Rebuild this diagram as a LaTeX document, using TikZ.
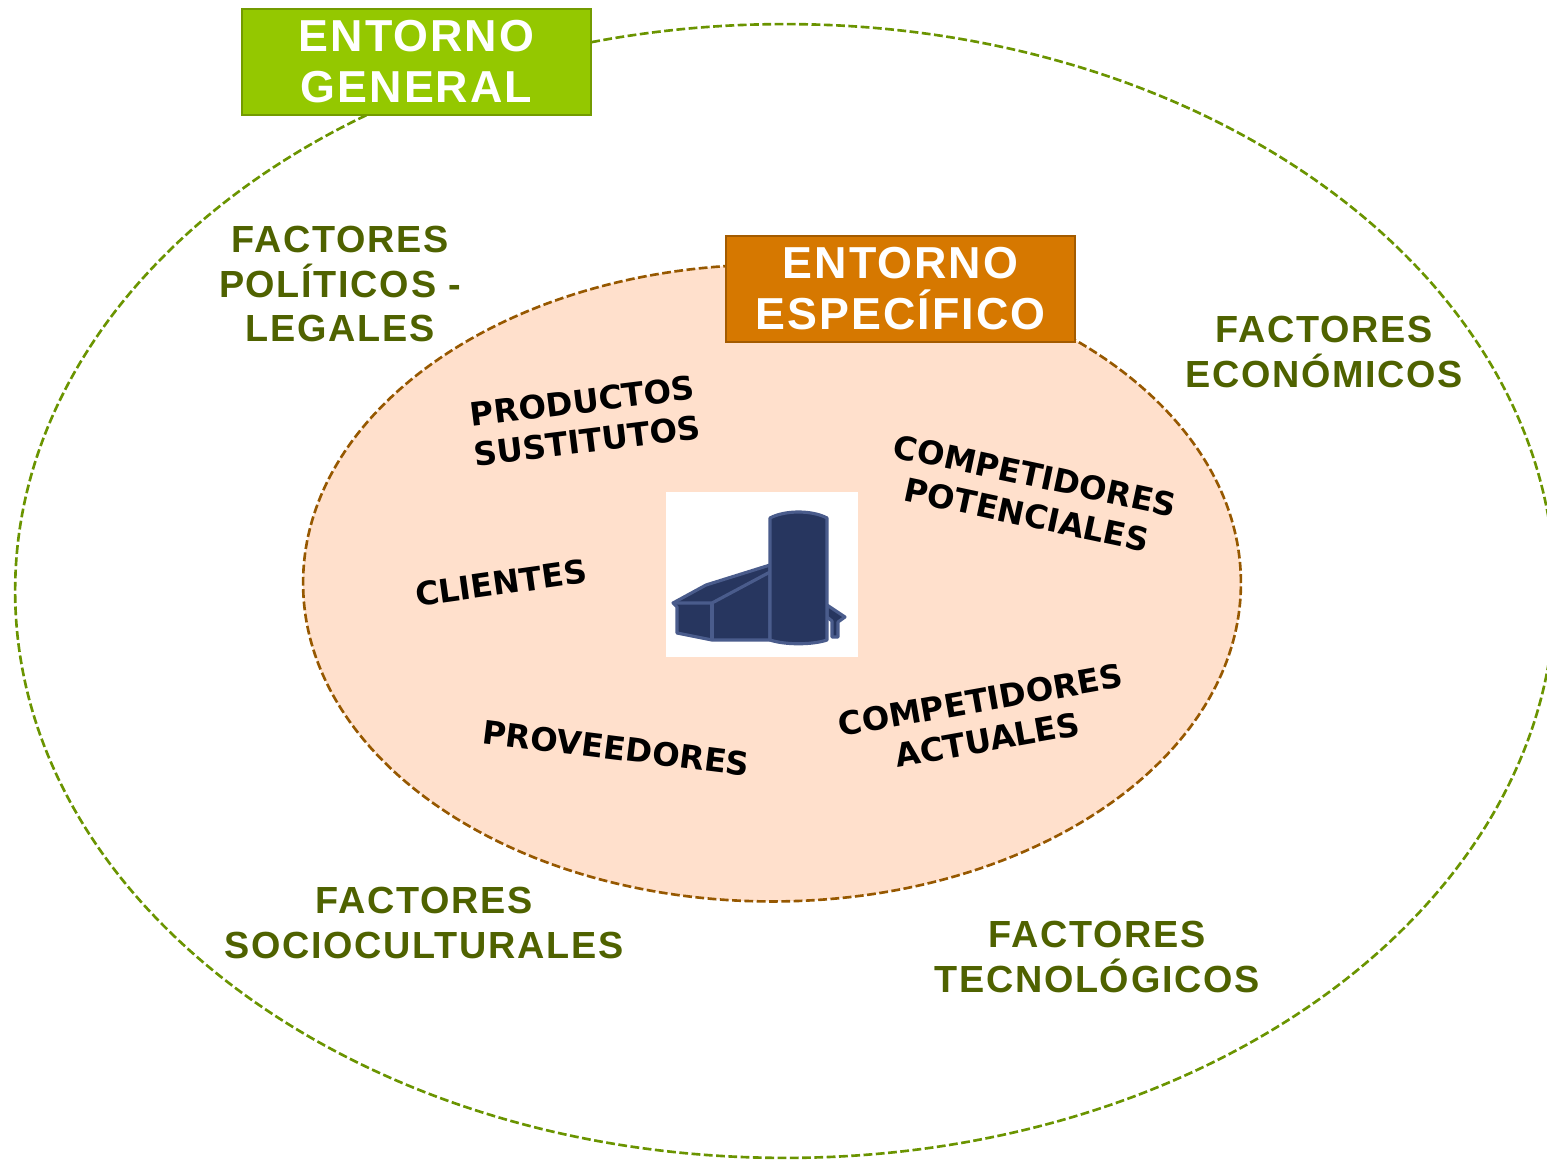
\documentclass[tikz,border=0pt]{standalone}
\usepackage{fontspec}
\setmainfont{DejaVu Sans}
\newfontfamily\headfont[LetterSpace=4.5]{Liberation Sans}
\usetikzlibrary{shapes.geometric}
\definecolor{greenfill}{HTML}{94C800}
\definecolor{greenline}{HTML}{739B00}
\definecolor{greendash}{HTML}{6A9400}
\definecolor{greentext}{HTML}{4F6200}
\definecolor{orangefill}{HTML}{D67800}
\definecolor{orangeline}{HTML}{A35B00}
\definecolor{peachfill}{HTML}{FFE0CC}
\definecolor{browndash}{HTML}{965800}
\definecolor{navyfill}{HTML}{27365F}
\definecolor{navyline}{HTML}{4A5C8C}
\tikzset{
    ring/.style={ellipse,inner sep=0pt,line width=1.5pt,dash pattern=on 5pt off 2pt},
    titlebox/.style={draw,line width=1.6pt,minimum width=6.98cm,minimum height=2.12cm,inner sep=0pt,
        align=center,text=white,font=\headfont\fontsize{25.5}{29}\selectfont\bfseries},
    factor/.style={align=center,text=greentext,font=\headfont\fontsize{21.5}{25.5}\selectfont\bfseries},
    agent/.style={align=center,text=black,font=\fontsize{18.4}{22.8}\selectfont\bfseries},
}

\begin{document}
\begin{tikzpicture}[x=0.02cm,y=-0.02cm]
    \useasboundingbox (0,0) rectangle (1547,1159);

    \node[ring,draw=greendash,minimum width=30.8cm,minimum height=22.68cm] (general) at (785,591) {};
    \node[ring,draw=browndash,fill=peachfill,minimum width=18.76cm,minimum height=12.74cm] (especifico) at (772,583) {};

    \node[titlebox,draw=greenline,fill=greenfill] (titlegeneral) at (416.5,62) {\raisebox{-1.5pt}{ENTORNO}\\\raisebox{-1.5pt}{GENERAL}};
    \node[titlebox,draw=orangeline,fill=orangefill] (titleespecifico) at (900.5,289) {\raisebox{-1.5pt}{ENTORNO}\\\raisebox{-1.5pt}{ESPECÍFICO}};

    \node[factor] (politicos) at (340,284) {FACTORES\\POLÍTICOS -\\LEGALES};
    \node[factor] (economicos) at (1324,352) {FACTORES\\ECONÓMICOS};
    \node[factor] (socio) at (424,923) {FACTORES\\SOCIOCULTURALES};
    \node[factor] (tecno) at (1097,957) {FACTORES\\TECNOLÓGICOS};

    \node[agent,rotate=7] (sustitutos) at (585,421) {PRODUCTOS\\SUSTITUTOS};
    \node[agent,rotate=-12] (potenciales) at (1031,495) {COMPETIDORES\\POTENCIALES};
    \node[agent,rotate=8] (clientes) at (501,583) {CLIENTES};
    \node[agent,rotate=-7] (proveedores) at (616,748) {PROVEEDORES};
    \node[agent,rotate=10] (actuales) at (984,720) {COMPETIDORES\\ACTUALES};

    % empresa
    \fill[white] (666,492) rectangle (858,657);
    \begin{scope}[draw=navyline,fill=navyfill,line width=1.8pt,line join=round]
        \filldraw (827,605) -- (845,617) -- (838,622) -- (838,637) -- (832,637) -- (832,621) -- (827,617) -- cycle;
        \filldraw (673,603) -- (706,585) -- (770,565) -- (770,640) -- (712,640) -- (677,633) -- (677,607) -- cycle;
        \draw (673,603) -- (712,603) -- (770,572);
        \draw (712,603) -- (712,640);
        \filldraw (770,518) .. controls (785,510) and (812,510) .. (827,518) -- (827,640)
            .. controls (812,645) and (785,645) .. (770,640) -- cycle;
    \end{scope}
\end{tikzpicture}
\end{document}
